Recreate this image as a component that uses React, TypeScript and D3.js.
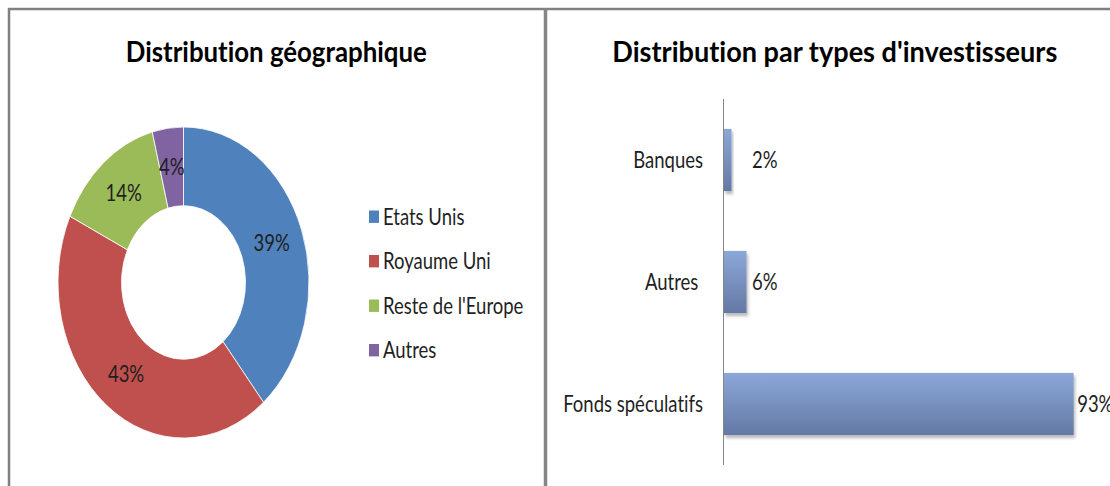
import React from 'react';
import * as d3 from 'd3';

const geoTitle = 'Distribution géographique';
const geoLabels = ['Etats Unis', 'Royaume Uni', "Reste de l'Europe", 'Autres'];
const geoValues = [39, 43, 14, 4];
const geoColors = ['#4F81BD', '#C0504D', '#9BBB59', '#8064A2'];

const invTitle = "Distribution par types d'investisseurs";
const invCategories = ['Banques', 'Autres\u00a0', 'Fonds spéculatifs'];
const invValues = [2, 6, 93];

const W = 1110;
const H = 486;
const SY = 1.239; // vertical stretch of the original picture
const FONT = 'Lato, "Open Sans", sans-serif';
const NOLIG = { fontVariantLigatures: 'none', fontFeatureSettings: '"liga" 0', whiteSpace: 'pre' } as any;

function SText(props: any) {
  const { x, y, children, size = 18.5, weight = 'normal', anchor = 'start', fill = '#1f1f1f', sy = SY, len } = props;
  return (
    <text
      transform={`translate(${x},${y}) scale(1,${sy})`}
      fontFamily={FONT}
      fontSize={size}
      fontWeight={weight}
      textAnchor={anchor}
      fill={fill}
      dy="0.35em"
      style={NOLIG}
      {...(len ? { textLength: len, lengthAdjust: 'spacingAndGlyphs' } : {})}
    >
      {children}
    </text>
  );
}

export default function App() {
  // donut
  const cx = 183.5;
  const cy = 282.5;
  const rOuter = 125.5;
  const rInner = 62;
  const pie = d3.pie<number>().sort(null).value((d) => d)(geoValues);
  const arc = d3.arc<d3.PieArcDatum<number>>().innerRadius(rInner).outerRadius(rOuter);

  const legendY = d3.scalePoint<string>().domain(geoLabels).range([216.7, 350.2]);

  // bars
  const y = d3.scaleBand<string>().domain(invCategories).range([99, 465]).paddingInner(0.49).paddingOuter(0.245);
  const x = d3.scaleLinear().domain([0, 100]).range([724, 1100]);

  return (
    <svg width={W} height={H} style={{ position: 'absolute', left: 0, top: 0, display: 'block', background: '#fff' }}>
      <defs>
        <linearGradient id="barGrad" x1="0" y1="0" x2="0" y2="1">
          <stop offset="0" stopColor="#8CA8D8" />
          <stop offset="1" stopColor="#6478A4" />
        </linearGradient>
        <filter id="shadow" x="-10%" y="-10%" width="130%" height="140%">
          <feDropShadow dx="1.5" dy="3" stdDeviation="1.8" floodColor="#000" floodOpacity="0.28" />
        </filter>
      </defs>
      <rect x={0} y={0} width={W} height={H} fill="#fff" />

      {/* frame */}
      <line x1={8} x2={W} y1={9} y2={9} stroke="#808080" strokeWidth={2.5} />
      <line x1={9} x2={9} y1={8} y2={H} stroke="#808080" strokeWidth={2.5} />
      <line x1={545.5} x2={545.5} y1={8} y2={H} stroke="#858585" strokeWidth={3.5} />

      {/* left: donut */}
      <SText x={276.3} y={52} size={24.5} sy={1.17} weight="bold" anchor="middle" fill="#000" len={301}>{geoTitle}</SText>
      <g transform={`translate(${cx},${cy}) scale(1,${SY})`}>
        {pie.map((p, i) => (
          <path key={i} d={arc(p) || ''} fill={geoColors[i]} stroke="#fff" strokeWidth={0.8} vectorEffect="non-scaling-stroke" />
        ))}
      </g>
      {pie.map((p, i) => {
        const c = arc.centroid(p);
        return (
          <SText key={i} x={cx + c[0]} y={cy + c[1] * SY} anchor="middle">{`${geoValues[i]}%`}</SText>
        );
      })}
      {geoLabels.map((l, i) => (
        <g key={l}>
          <rect x={369} y={(legendY(l) as number) - 6.2} width={10} height={12.4} fill={geoColors[i]} />
          <SText x={383} y={legendY(l) as number}>{l}</SText>
        </g>
      ))}

      {/* right: bars */}
      <SText x={834.8} y={52} size={24.5} sy={1.17} weight="bold" anchor="middle" fill="#000" len={445}>{invTitle}</SText>
      {invCategories.map((c, i) => (
        <rect
          key={c}
          x={x(0)}
          y={y(c) as number}
          width={x(invValues[i]) - x(0)}
          height={y.bandwidth()}
          fill="url(#barGrad)"
          filter="url(#shadow)"
        />
      ))}
      <line x1={x(0) - 0.5} x2={x(0) - 0.5} y1={99} y2={465} stroke="#868686" strokeWidth={1} />
      {invCategories.map((c, i) => {
        const cyb = (y(c) as number) + y.bandwidth() / 2;
        return (
          <g key={c}>
            <SText x={x(0) - 21} y={cyb} anchor="end">{c}</SText>
            <SText x={Math.max(x(invValues[i]) + 3.5, x(0) + 28)} y={cyb}>{`${invValues[i]}%`}</SText>
          </g>
        );
      })}
    </svg>
  );
}
